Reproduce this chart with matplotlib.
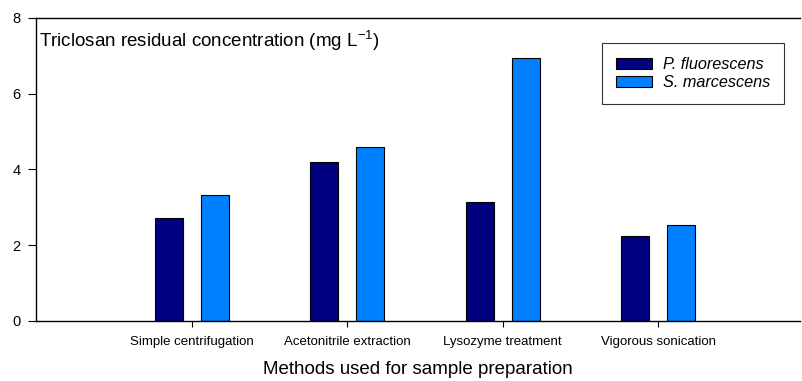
import matplotlib
matplotlib.use("Agg")
import matplotlib.pyplot as plt
import numpy as np

plt.rcParams['font.family'] = ['Liberation Sans', 'DejaVu Sans']

methods = ["Simple centrifugation", "Acetonitrile extraction",
           "Lysozyme treatment", "Vigorous sonication"]
p_fluorescens = [2.71, 4.21, 3.13, 2.24]
s_marcescens = [3.32, 4.60, 6.95, 2.53]

x = np.arange(len(methods))
w = 0.18
off = 0.148

fig = plt.figure(figsize=(8.03, 3.81), dpi=100)
ax = fig.add_axes([36/803, 1 - 321/381, 764/803, 303/381])

ax.bar(x - off, p_fluorescens, w, color="#000080", edgecolor="black",
       linewidth=0.8, label="P. fluorescens")
ax.bar(x + off, s_marcescens, w, color="#0080FF", edgecolor="black",
       linewidth=0.8, label="S. marcescens")

ax.set_xlim(-1.0, 3.91)
ax.set_ylim(0, 8)
ax.set_yticks([0, 2, 4, 6, 8])
ax.set_xticks(x)
ax.set_xticklabels(methods, fontsize=9.5)
ax.tick_params(axis='y', labelsize=10.5, length=6, width=0.8, direction='out', pad=5)
ax.tick_params(axis='x', length=4, width=0.8, direction='out', pad=7)
ax.spines['right'].set_visible(False)
for s in ['left', 'bottom', 'top']:
    ax.spines[s].set_linewidth(1.0)

ax.set_xlabel("Methods used for sample preparation", fontsize=13.5, labelpad=9)
ax.text(0.004, 0.965, "Triclosan residual concentration (mg L$^{\\mathregular{-1}}$)",
        transform=ax.transAxes, fontsize=13.5, va='top', ha='left')

leg = ax.legend(loc='upper right', bbox_to_anchor=(0.979, 0.9175),
                prop={'style': 'italic', 'size': 11.7}, frameon=True, fancybox=False,
                edgecolor='black', handlelength=2.2, handleheight=0.65,
                handletextpad=0.68, borderpad=0.85, labelspacing=0.2,
                borderaxespad=0)
leg.get_frame().set_linewidth(0.8)

fig.savefig("out.png", dpi=100)
